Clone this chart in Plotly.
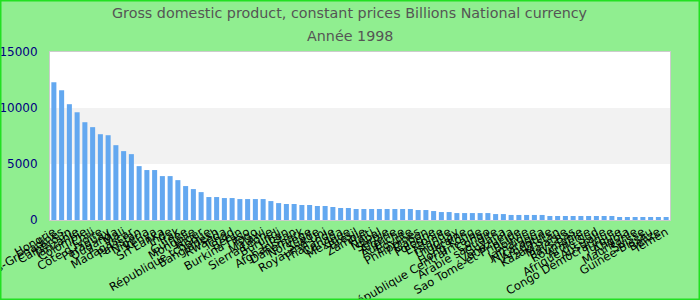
import plotly.graph_objects as go

countries = [
    "Hongrie", "Saint-Vincent-et-les-Grenadines", "Cameroun", "Tanzanie", "Colombie",
    "Chili", "Côte d'Ivoire", "Paraguay", "Ouganda", "Mali",
    "Madagascar", "Pakistan", "Nigeria", "Kenya", "Sri Lanka",
    "Inde", "Irak", "Guinée", "Mongolie", "Niger",
    "République tchèque", "Bangladesh", "Rwanda", "Tchad", "Bénin",
    "Burkina Faso", "Togo", "Malawi", "Sierra Leone", "Burundi",
    "Liban", "Afghanistan", "Danemark", "Norvège", "Suède",
    "Royaume-Uni", "Thaïlande", "Canada", "Mexique", "Brésil",
    "Zambie", "Haïti", "Népal", "Serbie", "Algérie",
    "Autriche", "Égypte", "Philippines", "Gabon", "Pologne",
    "Estonie", "Islande", "Uruguay", "Ukraine", "Hong Kong",
    "République Centrafricaine", "Congo", "Arabie saoudite", "Guyana", "Venezuela",
    "Sao Tomé-et-Principe", "Bolivie", "Jamaïque", "Nicaragua", "Argentine",
    "Kazakhstan", "Malaisie", "Pays-Bas", "Roumanie", "Arménie",
    "Afrique du Sud", "Australie", "Congo Démocratique", "Turquie", "Angola",
    "Mauritanie", "Suisse", "Guinée-Bissau", "Belize", "Yémen",
]

values = [
    12300, 11580, 10340, 9620, 8730, 8290, 7660, 7570, 6680, 6150,
    5880, 4810, 4460, 4460, 3920, 3920, 3560, 3030, 2760, 2490,
    2050, 2050, 1960, 1960, 1870, 1870, 1870, 1870, 1690, 1510,
    1430, 1430, 1340, 1340, 1250, 1250, 1160, 1070, 1070, 980,
    980, 980, 980, 980, 980, 980, 980, 890, 890, 800,
    710, 710, 620, 620, 620, 620, 620, 530, 530, 450,
    450, 450, 450, 450, 360, 360, 360, 360, 360, 360,
    360, 360, 360, 270, 270, 270, 270, 270, 270, 270,
]

title_line1 = "Gross domestic product, constant prices Billions National currency"
title_line2 = "Année 1998"
y_ticks = [0, 5000, 10000, 15000]

FONT = "DejaVu Sans"
L, R, T, B = 50, 30, 52, 80
W, H = 700, 300
pw, ph = W - L - R, H - T - B

fig = go.Figure(go.Bar(
    x=countries, y=values, marker_color="#63a8f0", marker_line_width=0,
))

shapes = [
    dict(type="rect", xref="paper", yref="y", x0=0, x1=1, y0=5000, y1=10000,
         fillcolor="#f2f2f2", line_width=0, layer="below"),
    dict(type="rect", xref="paper", yref="paper",
         x0=-L / pw + 0.5 / pw, x1=1 + R / pw - 0.5 / pw,
         y0=-B / ph + 0.5 / ph, y1=1 + T / ph - 0.5 / ph,
         line=dict(color="#22e022", width=2), layer="above"),
]

fig.update_layout(
    width=W, height=H,
    margin=dict(l=L, r=R, t=T, b=B, autoexpand=False),
    paper_bgcolor="#90ee90", plot_bgcolor="#ffffff",
    font=dict(family=FONT, size=11, color="#000000"),
    showlegend=False, bargap=0.35,
    shapes=shapes,
    annotations=[
        dict(text=title_line1, xref="paper", yref="paper", x=0.5 - 10 / pw, y=1 + 39 / ph,
             showarrow=False, font=dict(size=14.3, color="#555555", family=FONT), xanchor="center", yanchor="middle"),
        dict(text=title_line2, xref="paper", yref="paper", x=0.5 - 10 / pw, y=1 + 16 / ph,
             showarrow=False, font=dict(size=14.3, color="#555555", family=FONT), xanchor="center", yanchor="middle"),
    ],
)
fig.update_xaxes(
    tickmode="array", tickvals=countries, ticktext=countries,
    tickangle=-30, showgrid=False, showline=True, linecolor="#cccccc", mirror=True,
    ticks="", tickfont=dict(size=11.5, color="#000000", family=FONT), automargin=False,
)
fig.update_yaxes(
    range=[0, 15000], tickmode="array", tickvals=y_ticks, ticktext=[str(v) for v in y_ticks],
    showgrid=False, zeroline=False,
    showline=True, linecolor="#cccccc", mirror=True, ticks="", ticklabelstandoff=9,
    tickfont=dict(size=12, color="#000080", family=FONT), automargin=False,
)

fig.write_html("out.html")
